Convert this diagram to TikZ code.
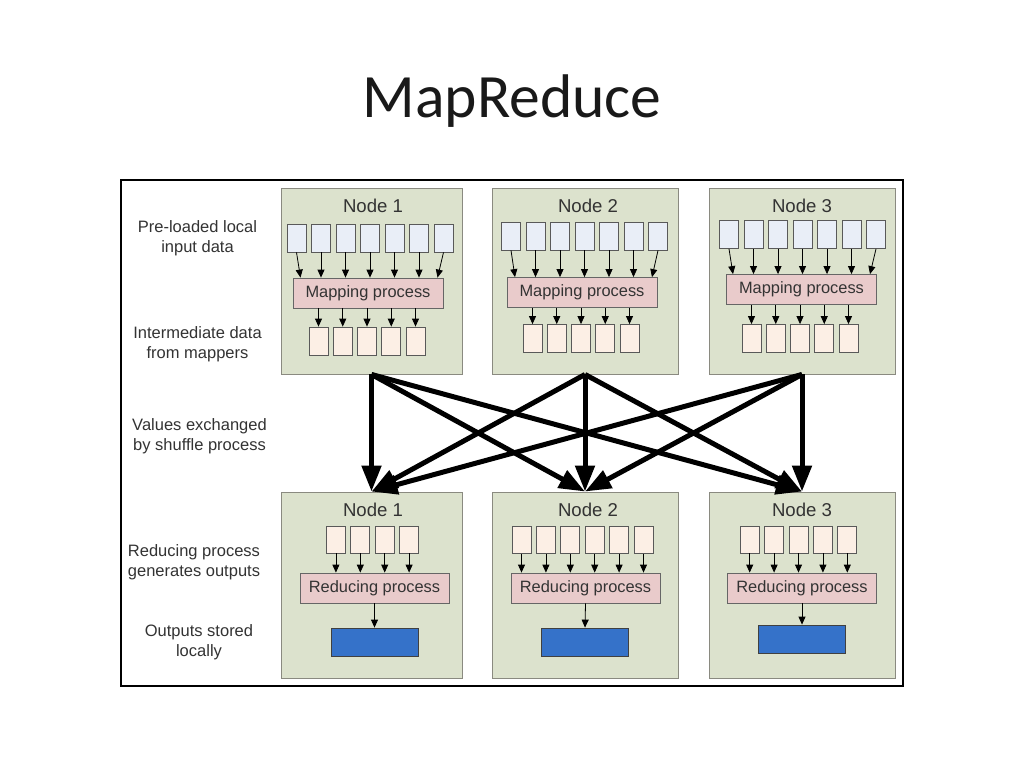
\documentclass[tikz,border=0pt]{standalone}
\usepackage{fontspec}
\setmainfont{Liberation Sans}
\newfontfamily\titlefont{Carlito}
\usetikzlibrary{arrows.meta,calc}
\definecolor{nodefill}{HTML}{DCE2CD}
\definecolor{nodeline}{HTML}{8A8A80}
\definecolor{infill}{HTML}{E9EEF7}
\definecolor{outfill}{HTML}{FCEFE5}
\definecolor{mapfill}{HTML}{E9CBCB}
\definecolor{bluefill}{HTML}{3572C9}
\definecolor{txt}{HTML}{333333}
\tikzset{
  nodebox/.style={draw=nodeline, fill=nodefill, line width=0.9pt, inner sep=0pt, minimum height=186pt},
  ntitle/.style={text=txt, font=\fontsize{18.6}{22}\selectfont, inner sep=0pt},
  inbox/.style={draw=black!65, fill=infill, line width=0.8pt, inner sep=0pt, minimum width=19pt, minimum height=28pt},
  outbox/.style={draw=black!65, fill=outfill, line width=0.8pt, inner sep=0pt, minimum width=19pt, minimum height=28pt},
  procbox/.style={draw=black!60, fill=mapfill, line width=0.8pt, inner sep=0pt, minimum width=150pt, minimum height=30pt, text=txt, font=\fontsize{16.4}{20}\selectfont},
  bluebox/.style={draw=black!75, fill=bluefill, line width=0.8pt, inner sep=0pt, minimum width=87pt, minimum height=28pt},
  smallarrow/.style={-{Triangle[length=8pt,width=7pt]}, line width=0.8pt, black},
  shuffle/.style={-{Triangle[length=26pt,width=19pt]}, line width=5pt, black},
  sidelabel/.style={align=center, text=txt, font=\fontsize{16.5}{20}\selectfont, inner sep=0pt}
}
% #1 prefix, #2 input cx, #3 input cy, #4 map cx, #5 map cy, #6 out cx, #7 out cy
\newcommand\topinner[7]{%
  \foreach \k in {1,...,7} {\node[inbox] (#1i\k) at ({#2+(\k-4)*24.5},#3) {};}
  \node[procbox] (#1m) at (#4,#5) {Mapping process};
  \foreach \k in {1,...,5} {\node[outbox] (#1o\k) at ({#6+(\k-3)*24.25},#7) {};}
  \foreach \k in {2,...,6} {\draw[smallarrow] (#1i\k.south) -- (#1i\k.south |- #1m.north);}
  \draw[smallarrow] (#1i1.south) -- ($(#1i1.south |- #1m.north)+(4,0)$);
  \draw[smallarrow] (#1i7.south) -- ($(#1i7.south |- #1m.north)+(-6,0)$);
  \foreach \k in {1,...,5} {\draw[smallarrow] (#1o\k.north |- #1m.south) -- (#1o\k.north);}
}
% #1 prefix, #2 count, #3 in cx, #4 in cy, #5 red cx, #6 red cy, #7 blue cx, #8 blue cy
\newcommand\botinner[8]{%
  \foreach \k in {1,...,#2} {\node[outbox, minimum height=27pt] (#1i\k) at ({#3+(\k-(#2+1)/2)*24.4},#4) {};}
  \node[procbox, minimum width=149pt] (#1r) at (#5,#6) {Reducing process};
  \node[bluebox] (#1b) at (#7,#8) {};
  \foreach \k in {1,...,#2} {\draw[smallarrow] (#1i\k.south) -- (#1i\k.south |- #1r.north);}
  \draw[smallarrow] (#1r.south) -- (#1b.north);
}
\begin{document}
\begin{tikzpicture}[x=1pt,y=-1pt]
\useasboundingbox[fill=white] (0,0) rectangle (1024,768);
\node[anchor=base, font=\titlefont\fontsize{61.6}{70}\selectfont, text=black!90, inner sep=0pt] (title) at (512,117) {MapReduce};
\draw[line width=1.4pt] (121,180) rectangle (903,686);

% side labels
\node[sidelabel] (l1) at (197.5,238) {Pre-loaded local\\input data};
\node[sidelabel] (l2) at (197.5,344.5) {Intermediate data\\from mappers};
\node[sidelabel] (l3) at (199.5,436) {Values exchanged\\by shuffle process};
\node[sidelabel] (l4) at (194,562) {Reducing process\\generates outputs};
\node[sidelabel] (l5) at (199,642) {Outputs stored\\locally};

% top nodes
\node[nodebox, minimum width=181pt] (T1) at (371.5,281) {};
\node[nodebox, minimum width=186pt] (T2) at (585,281) {};
\node[nodebox, minimum width=186pt] (T3) at (802,281) {};
\node[ntitle] (T1t) at (373,206) {Node 1};
\node[ntitle] (T2t) at (588,206) {Node 2};
\node[ntitle] (T3t) at (802,206) {Node 3};
\topinner{ta}{370}{238}{368}{293}{367}{341}
\topinner{tb}{584.5}{236}{582}{292.5}{581}{338.5}
\topinner{tc}{802.5}{234.5}{801.5}{289.5}{800}{338.5}

% bottom nodes
\node[nodebox, minimum width=181pt] (B1) at (371.5,585) {};
\node[nodebox, minimum width=186pt] (B2) at (585,585) {};
\node[nodebox, minimum width=186pt] (B3) at (802,585) {};
\node[ntitle] (B1t) at (373,510) {Node 1};
\node[ntitle] (B2t) at (588,510) {Node 2};
\node[ntitle] (B3t) at (802,510) {Node 3};
\botinner{ba}{4}{372.5}{539.5}{374.5}{588}{374.5}{642}
\botinner{bb}{6}{582.5}{540}{585.5}{588}{585}{642}
\botinner{bc}{5}{798.5}{539.5}{802}{588}{802}{639}

% shuffle
\foreach \a in {1,2,3} {
  \foreach \b in {1,2,3} {
    \draw[shuffle] (T\a.south) -- (B\b.north);
  }
}
\end{tikzpicture}
\end{document}
